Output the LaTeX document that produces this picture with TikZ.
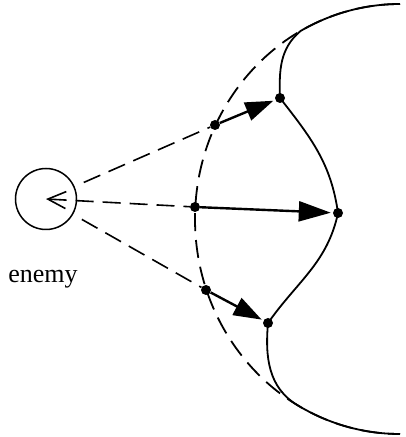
\documentclass[tikz,border=0pt]{standalone}
\usepackage{fontspec}
\setmainfont{Liberation Serif}
\usetikzlibrary{positioning,arrows.meta,calc}

\begin{document}
\begin{tikzpicture}[
    x=1pt, y=1pt,
    % --- Node styles ---
    dot/.style={circle, fill=black, inner sep=0pt, minimum size=10pt},
    foe/.style={circle, draw, line width=1.5pt, inner sep=0pt, minimum size=61pt},
    lbl/.style={font=\fontsize{26}{30}\selectfont, anchor=base, inner sep=0pt},
    % --- Line styles ---
    ray/.style={line width=1.6pt, dash pattern=on 18pt off 9pt},
    front/.style={line width=1.8pt, dash pattern=on 18pt off 9pt},
    wave/.style={line width=1.8pt},
    push/.style={line width=2.4pt, -{Triangle[length=28pt, width=19pt]}, shorten >=2pt},
  ]
    \useasboundingbox (0,0) rectangle (406,437);

    % ===================== ENEMY =====================
    \node[foe] (enemy) at (46,238) {};
    \node[lbl] (name) at (43,154) {enemy};

    % ===================== POINTS ON THE FRONTS =====================
    \node[dot] (a1) at (215,312) {};
    \node[dot] (a2) at (195,230) {};
    \node[dot] (a3) at (206,147) {};
    \node[dot] (b1) at (280,339) {};
    \node[dot] (b2) at (338,224) {};
    \node[dot] (b3) at (268,114) {};

    % dashed front (ellipse arc)
    \draw[front] (400,433) arc[start angle=90, end angle=270, x radius=205, y radius=215];

    % solid front
    \coordinate (top) at (400,433);
    \coordinate (bot) at ($(400,218)+(240:205 and 215)$);
    \draw[wave] (top) arc[start angle=90, end angle=119, x radius=205, y radius=215]
      to[out=220, in=92] (b1.center)
      to[out=-52, in=98] (b2.center)
      to[out=258, in=55] (b3.center)
      to[out=265, in=149] (bot)
      arc[start angle=240, end angle=270, x radius=205, y radius=215];

    % ===================== RAYS FROM ENEMY =====================
    \draw[ray, shorten <=10pt] (enemy) -- (a1);
    \draw[ray, {Straight Barb[length=18pt, width=17pt, line width=1.6pt]}-] (enemy.center) -- (a2);
    \draw[ray, shorten <=10pt] (enemy) -- (a3);

    % ===================== ARROWS =====================
    \draw[push] (a1) -- (b1);
    \draw[push, -{Triangle[length=32pt, width=20pt]}] (a2) -- (b2);
    \draw[push] (a3) -- (b3);

  \end{tikzpicture}
\end{document}
